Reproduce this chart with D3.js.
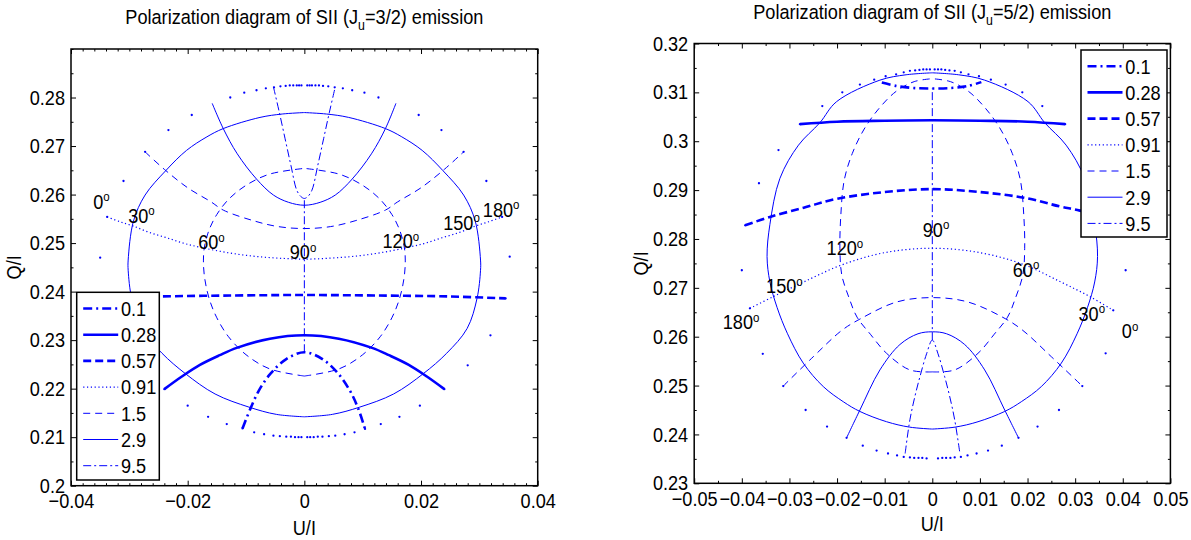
<!DOCTYPE html>
<html><head><meta charset="utf-8">
<script src="https://cdn.jsdelivr.net/npm/d3@7"></script>
<style>body{margin:0;background:#fff;} svg text{font-family:"Liberation Sans",Arial,Helvetica,sans-serif;fill:#000;}</style>
</head><body>
<svg id="chart" width="1191" height="540"></svg>
<script>
// ---------------- DATA ----------------
const fieldLabels = ["0.1","0.28","0.57","0.91","1.5","2.9","9.5"];
const angleLabels = ["0","30","60","90","120","150","180"];

// Left panel (J_u = 3/2): constant-field curves, points [U/I, Q/I]
const L_f01  = [[-0.0106,0.2118],[-0.0092,0.2160],[-0.0078,0.2196],[-0.0058,0.2231],[-0.0031,0.2261],[0,0.2275],[0.0031,0.2261],[0.0058,0.2231],[0.0078,0.2196],[0.0092,0.2160],[0.0104,0.2117]];
const L_f028 = [[-0.0240,0.2199],[-0.0210,0.2225],[-0.0179,0.2249],[-0.0145,0.2269],[-0.0116,0.2284],[-0.0059,0.2303],[0,0.2310],[0.0059,0.2303],[0.0116,0.2284],[0.0145,0.2269],[0.0179,0.2249],[0.0210,0.2225],[0.0240,0.2199]];
const L_f057 = [[-0.0345,0.2387],[-0.0250,0.2390],[-0.0120,0.2392],[0,0.2393],[0.0120,0.2392],[0.0250,0.2390],[0.0345,0.2386]];
const L_f091 = [[-0.0338,0.2554],[-0.0316,0.2544],[-0.0293,0.2535],[-0.0266,0.2522],[-0.0236,0.2511],[-0.0205,0.2499],[-0.0173,0.2490],[-0.0130,0.2480],[-0.0087,0.2473],[-0.0045,0.2469],[0,0.2467],[0.0045,0.2469],[0.0087,0.2473],[0.0130,0.2480],[0.0173,0.2490],[0.0205,0.2499],[0.0236,0.2511],[0.0266,0.2522],[0.0293,0.2535],[0.0316,0.2544],[0.0339,0.2554]];
const L_f15  = [[-0.0273,0.2688],[-0.0240,0.2652],[-0.0200,0.2614],[-0.0160,0.2585],[-0.0139,0.2568],[-0.0087,0.2546],[-0.0045,0.2534],[0,0.2530],[0.0045,0.2534],[0.0087,0.2546],[0.0139,0.2568],[0.0160,0.2585],[0.0200,0.2614],[0.0240,0.2652],[0.0273,0.2688]];
const L_f29  = [[-0.0158,0.2788],[-0.0139,0.2736],[-0.0115,0.2684],[-0.0082,0.2632],[-0.0053,0.2599],[-0.0027,0.2584],[0,0.2578],[0.0027,0.2584],[0.0053,0.2599],[0.0082,0.2632],[0.0115,0.2684],[0.0139,0.2736],[0.0157,0.2788]];
const L_f95  = [[-0.0053,0.2822],[-0.0043,0.2770],[-0.0033,0.2715],[-0.0023,0.2660],[-0.0013,0.2609],[-0.0006,0.2596],[0,0.2592],[0.0006,0.2596],[0.0013,0.2609],[0.0023,0.2660],[0.0033,0.2715],[0.0043,0.2770],[0.0053,0.2822]];

// Left panel: constant-angle curves (bottom -> top)
const L_a0   = [[-0.0005,0.2100],[-0.0010,0.2100],[-0.0016,0.2100],[-0.0023,0.2101],[-0.0031,0.2101],[-0.0042,0.2102],[-0.0053,0.2103],[-0.0069,0.2106],[-0.0086,0.2110],[-0.0106,0.2118],[-0.0133,0.2127],[-0.0165,0.2142],[-0.0200,0.2165],[-0.0240,0.2199],[-0.0281,0.2248],[-0.0319,0.2310],[-0.0345,0.2387],[-0.0350,0.2470],[-0.0338,0.2554],[-0.0310,0.2628],[-0.0273,0.2688],[-0.0233,0.2733],[-0.0193,0.2764],[-0.0127,0.2800],[-0.0103,0.2810],[-0.0082,0.2815],[-0.0066,0.2819],[-0.0052,0.2821],[-0.0041,0.2823],[-0.0032,0.2824],[-0.0025,0.2825],[-0.0019,0.2825],[-0.0013,0.2825],[-0.0009,0.2825],[-0.0005,0.2825]];
const L_a180 = [[0.0005,0.2100],[0.0010,0.2100],[0.0016,0.2100],[0.0023,0.2101],[0.0031,0.2101],[0.0042,0.2102],[0.0053,0.2103],[0.0069,0.2106],[0.0086,0.2110],[0.0104,0.2117],[0.0131,0.2127],[0.0163,0.2142],[0.0198,0.2165],[0.0240,0.2199],[0.0280,0.2248],[0.0319,0.2310],[0.0345,0.2386],[0.0352,0.2472],[0.0339,0.2554],[0.0312,0.2628],[0.0273,0.2688],[0.0235,0.2733],[0.0196,0.2764],[0.0127,0.2800],[0.0103,0.2810],[0.0082,0.2815],[0.0066,0.2819],[0.0052,0.2821],[0.0041,0.2823],[0.0032,0.2824],[0.0025,0.2825],[0.0019,0.2825],[0.0013,0.2825],[0.0009,0.2825],[0.0005,0.2825]];
const L_a30  = [[0,0.2142],[-0.0048,0.2147],[-0.0095,0.2162],[-0.0153,0.2189],[-0.0204,0.2231],[-0.0244,0.2273],[-0.0279,0.2324],[-0.0296,0.2386],[-0.0302,0.2444],[-0.0302,0.2465],[-0.0293,0.2545],[-0.0273,0.2599],[-0.0237,0.2650],[-0.0202,0.2691],[-0.0167,0.2719],[-0.0139,0.2736],[-0.0076,0.2759],[-0.0038,0.2766],[0,0.2769]];
const L_a150 = [[0,0.2142],[0.0048,0.2147],[0.0095,0.2162],[0.0153,0.2189],[0.0204,0.2231],[0.0244,0.2273],[0.0279,0.2324],[0.0296,0.2386],[0.0302,0.2444],[0.0302,0.2465],[0.0293,0.2545],[0.0273,0.2599],[0.0237,0.2650],[0.0202,0.2691],[0.0167,0.2719],[0.0139,0.2736],[0.0076,0.2759],[0.0038,0.2766],[0,0.2769]];
const L_a60  = [[0,0.2226],[-0.0060,0.2241],[-0.0100,0.2270],[-0.0130,0.2307],[-0.0150,0.2346],[-0.0163,0.2385],[-0.0171,0.2429],[-0.0173,0.2465],[-0.0171,0.2494],[-0.0163,0.2528],[-0.0150,0.2559],[-0.0130,0.2590],[-0.0100,0.2619],[-0.0060,0.2642],[0,0.2654]];
const L_a120 = [[0,0.2226],[0.0060,0.2241],[0.0100,0.2270],[0.0130,0.2307],[0.0150,0.2346],[0.0163,0.2385],[0.0171,0.2429],[0.0173,0.2465],[0.0171,0.2494],[0.0163,0.2528],[0.0150,0.2559],[0.0130,0.2590],[0.0100,0.2619],[0.0060,0.2642],[0,0.2654]];
const L_a90  = [[0,0.2275],[0,0.2592]];
const L_angleLabelPos = [[-0.0362,0.2571],[-0.0302,0.2542],[-0.0182,0.2487],[-0.0025,0.2467],[0.0134,0.2489],[0.0238,0.2527],[0.0306,0.2554]];

// Right panel (J_u = 5/2): constant-field curves
const R_f01  = [[-0.0106,0.3120],[-0.0075,0.3113],[-0.0040,0.3109],[0,0.3108],[0.0040,0.3109],[0.0075,0.3113],[0.0103,0.3121]];
const R_f028 = [[-0.0278,0.3035],[-0.0200,0.3040],[-0.0100,0.3042],[0,0.3043],[0.0100,0.3042],[0.0200,0.3040],[0.0279,0.3035]];
const R_f057 = [[-0.0393,0.2828],[-0.0341,0.2845],[-0.0270,0.2864],[-0.0201,0.2882],[-0.0100,0.2896],[0,0.2902],[0.0100,0.2896],[0.0195,0.2884],[0.0270,0.2866],[0.0310,0.2858],[0.0393,0.2830]];
const R_f091 = [[-0.0383,0.2658],[-0.0334,0.2682],[-0.0270,0.2712],[-0.0190,0.2747],[-0.0100,0.2772],[0,0.2781],[0.0100,0.2772],[0.0191,0.2748],[0.0270,0.2712],[0.0331,0.2682],[0.0380,0.2654]];
const R_f15  = [[-0.0313,0.2499],[-0.0250,0.2559],[-0.0190,0.2613],[-0.0152,0.2636],[-0.0075,0.2671],[0,0.2680],[0.0075,0.2671],[0.0153,0.2637],[0.0190,0.2613],[0.0250,0.2559],[0.0315,0.2499]];
const R_f29  = [[-0.0180,0.2393],[-0.0152,0.2450],[-0.0110,0.2532],[-0.0068,0.2584],[-0.0030,0.2606],[0,0.2610],[0.0030,0.2606],[0.0068,0.2584],[0.0110,0.2532],[0.0152,0.2450],[0.0181,0.2393]];
const R_f95  = [[-0.0057,0.2361],[-0.0047,0.2430],[-0.0036,0.2480],[-0.0026,0.2518],[-0.0012,0.2565],[0,0.2593],[0.0012,0.2565],[0.0026,0.2518],[0.0036,0.2480],[0.0047,0.2430],[0.0058,0.2361]];

// Right panel: constant-angle curves (bottom -> top)
const R_a180 = [[-0.0012,0.2351],[-0.0021,0.2352],[-0.0029,0.2352],[-0.0038,0.2352],[-0.0047,0.2353],[-0.0060,0.2354],[-0.0074,0.2357],[-0.0093,0.2361],[-0.0117,0.2367],[-0.0146,0.2377],[-0.0180,0.2393],[-0.0221,0.2416],[-0.0266,0.2450],[-0.0313,0.2499],[-0.0356,0.2565],[-0.0383,0.2658],[-0.0400,0.2736],[-0.0393,0.2828],[-0.0364,0.2914],[-0.0323,0.2982],[-0.0278,0.3035],[-0.0231,0.3072],[-0.0189,0.3100],[-0.0152,0.3116],[-0.0122,0.3126],[-0.0098,0.3133],[-0.0076,0.3137],[-0.0060,0.3141],[-0.0047,0.3144],[-0.0036,0.3145],[-0.0027,0.3146],[-0.0019,0.3147],[-0.0012,0.3147],[-0.0005,0.3147]];
const R_a0   = [[0.0012,0.2351],[0.0021,0.2352],[0.0029,0.2352],[0.0038,0.2352],[0.0047,0.2353],[0.0060,0.2354],[0.0074,0.2357],[0.0093,0.2361],[0.0117,0.2367],[0.0146,0.2377],[0.0181,0.2393],[0.0221,0.2416],[0.0266,0.2450],[0.0315,0.2499],[0.0364,0.2566],[0.0380,0.2654],[0.0406,0.2736],[0.0393,0.2830],[0.0364,0.2914],[0.0323,0.2982],[0.0279,0.3035],[0.0231,0.3072],[0.0189,0.3100],[0.0154,0.3116],[0.0123,0.3126],[0.0098,0.3133],[0.0076,0.3137],[0.0060,0.3141],[0.0047,0.3144],[0.0036,0.3145],[0.0027,0.3146],[0.0019,0.3147],[0.0012,0.3147],[0.0005,0.3147]];
const R_a150 = [[0,0.2411],[-0.0048,0.2415],[-0.0096,0.2426],[-0.0152,0.2447],[-0.0187,0.2467],[-0.0229,0.2498],[-0.0271,0.2546],[-0.0304,0.2606],[-0.0326,0.2660],[-0.0341,0.2712],[-0.0347,0.2764],[-0.0341,0.2830],[-0.0320,0.2924],[-0.0281,0.2992],[-0.0236,0.3038],[-0.0201,0.3081],[-0.0110,0.3125],[-0.0055,0.3136],[0,0.3140]];
const R_a30  = [[0,0.2411],[0.0048,0.2415],[0.0096,0.2426],[0.0152,0.2447],[0.0187,0.2467],[0.0229,0.2498],[0.0271,0.2546],[0.0304,0.2606],[0.0326,0.2660],[0.0341,0.2712],[0.0347,0.2764],[0.0341,0.2830],[0.0320,0.2924],[0.0281,0.2992],[0.0236,0.3038],[0.0201,0.3081],[0.0110,0.3125],[0.0055,0.3136],[0,0.3140]];
const R_a120 = [[0,0.2528],[-0.0047,0.2532],[-0.0096,0.2566],[-0.0130,0.2605],[-0.0158,0.2640],[-0.0175,0.2680],[-0.0190,0.2726],[-0.0194,0.2780],[-0.0192,0.2850],[-0.0185,0.2920],[-0.0168,0.2975],[-0.0143,0.3025],[-0.0112,0.3067],[-0.0076,0.3102],[-0.0038,0.3122],[0,0.3128]];
const R_a60  = [[0,0.2528],[0.0047,0.2532],[0.0096,0.2566],[0.0130,0.2605],[0.0158,0.2640],[0.0175,0.2680],[0.0190,0.2726],[0.0194,0.2780],[0.0192,0.2850],[0.0185,0.2920],[0.0168,0.2975],[0.0143,0.3025],[0.0112,0.3067],[0.0076,0.3102],[0.0038,0.3122],[0,0.3128]];
const R_a90  = [[0,0.2593],[0,0.3108]];
const R_angleLabelPos = [[0.0398,0.2597],[0.0307,0.2633],[0.0169,0.2723],[-0.0020,0.2805],[-0.0222,0.2767],[-0.0349,0.2689],[-0.0440,0.2615]];

// Axis ticks
const L_xTicks = [-0.04,-0.02,0,0.02,0.04];
const L_xTickLabels = ["\u22120.04","\u22120.02","0","0.02","0.04"];
const L_yTicks = [0.20,0.21,0.22,0.23,0.24,0.25,0.26,0.27,0.28];
const L_yTickLabels = ["0.2","0.21","0.22","0.23","0.24","0.25","0.26","0.27","0.28"];
const R_xTicks = [-0.05,-0.04,-0.03,-0.02,-0.01,0,0.01,0.02,0.03,0.04,0.05];
const R_xTickLabels = ["\u22120.05","\u22120.04","\u22120.03","\u22120.02","\u22120.01","0","0.01","0.02","0.03","0.04","0.05"];
const R_yTicks = [0.23,0.24,0.25,0.26,0.27,0.28,0.29,0.30,0.31,0.32];
const R_yTickLabels = ["0.23","0.24","0.25","0.26","0.27","0.28","0.29","0.3","0.31","0.32"];

// ---------------- STYLES / LAYOUT ----------------
const BLUE = "#0000ff";
const FS = 20.5;      // font size (px)
const SX = 0.885;     // horizontal condensing of glyphs
const fieldStyles = [
  {w:2.6, dash:"9,4,2,4"},
  {w:2.6, dash:null},
  {w:2.6, dash:"8,4"},
  {w:1.2, dash:"1.2,2.6"},
  {w:1, dash:"7,5"},
  {w:1, dash:null},
  {w:1, dash:"8,3,2,3"}
];
const angleStyleFor = {"0":"dots","180":"dots","30":1,"150":1,"60":2,"120":2,"90":3};
const angleLineStyles = {1:{w:1,dash:null},2:{w:1,dash:"7,5"},3:{w:1,dash:"8,3,2,3"}};

const panels = [
  {x0:71, x1:537.7, y0:49, y1:485.7, uDom:[-0.04,0.04], qDom:[0.2,0.29],
   xTicks:L_xTicks, xTickLabels:L_xTickLabels, xMinor:0.002,
   yTicks:L_yTicks, yTickLabels:L_yTickLabels, yMinor:0.005,
   titleJ:"3/2", titleY:24, xlabY:535, ylabX:21,
   fields:[L_f01,L_f028,L_f057,L_f091,L_f15,L_f29,L_f95],
   angles:{"0":L_a0,"30":L_a30,"60":L_a60,"90":L_a90,"120":L_a120,"150":L_a150,"180":L_a180},
   labelPos:L_angleLabelPos,
   legend:{x:76.7, y:292.3, w:82.6, h:187.7}},
  {x0:694.2, x1:1170.4, y0:43.5, y1:483.3, uDom:[-0.05,0.05], qDom:[0.23,0.32],
   xTicks:R_xTicks, xTickLabels:R_xTickLabels, xMinor:0.005,
   yTicks:R_yTicks, yTickLabels:R_yTickLabels, yMinor:0.005,
   titleJ:"5/2", titleY:19, xlabY:531, ylabX:648,
   fields:[R_f01,R_f028,R_f057,R_f091,R_f15,R_f29,R_f95],
   angles:{"0":R_a0,"30":R_a30,"60":R_a60,"90":R_a90,"120":R_a120,"150":R_a150,"180":R_a180},
   labelPos:R_angleLabelPos,
   legend:{x:1081, y:50, w:86, h:187}}
];

const svg = d3.select("#chart");

function minorValues(dom, step, majors) {
  const n = Math.round((dom[1]-dom[0])/step);
  const out = [];
  for (let i=0;i<=n;i++){
    const v = dom[0]+i*step;
    if (!majors.some(m=>Math.abs(m-v)<step/10)) out.push(v);
  }
  return out;
}
function styleAxis(sel){
  sel.select(".domain").remove();
  sel.selectAll(".tick line").attr("stroke","#000").attr("stroke-width",1);
  sel.attr("font-size",FS).attr("font-family",'"Liberation Sans",Arial,Helvetica,sans-serif');
  sel.selectAll(".tick text").attr("fill","#000");
}
function condense(sel){
  sel.selectAll(".tick text").each(function(){
    const t = d3.select(this);
    const x = +t.attr("x") || 0;
    t.attr("x", x/SX).attr("transform",`scale(${SX},1)`);
  });
}
function addText(parent, x, y, anchor, extra){
  return parent.append("text")
    .attr("transform",`translate(${x},${y})${extra||""} scale(${SX},1)`)
    .attr("text-anchor",anchor||"start").attr("font-size",FS);
}

panels.forEach(p=>{
  const xs = d3.scaleLinear().domain(p.uDom).range([p.x0,p.x1]);
  const ys = d3.scaleLinear().domain(p.qDom).range([p.y1,p.y0]);
  const g = svg.append("g");
  const MAJ=5, MIN=2.5;
  const xMin = minorValues(p.uDom,p.xMinor,p.xTicks);
  const yMin = minorValues(p.qDom,p.yMinor,p.yTicks);

  g.append("g").attr("transform",`translate(0,${p.y1})`)
    .call(d3.axisBottom(xs).tickValues(p.xTicks).tickSize(-MAJ).tickPadding(8).tickFormat((d,i)=>p.xTickLabels[i])).call(styleAxis).call(condense);
  g.append("g").attr("transform",`translate(0,${p.y1})`)
    .call(d3.axisBottom(xs).tickValues(xMin).tickSize(-MIN).tickFormat("")).call(styleAxis);
  g.append("g").attr("transform",`translate(0,${p.y0})`)
    .call(d3.axisTop(xs).tickValues(p.xTicks).tickSize(-MAJ).tickFormat("")).call(styleAxis);
  g.append("g").attr("transform",`translate(0,${p.y0})`)
    .call(d3.axisTop(xs).tickValues(xMin).tickSize(-MIN).tickFormat("")).call(styleAxis);
  g.append("g").attr("transform",`translate(${p.x0},0)`)
    .call(d3.axisLeft(ys).tickValues(p.yTicks).tickSize(-MAJ).tickPadding(6).tickFormat((d,i)=>p.yTickLabels[i])).call(styleAxis).call(condense);
  g.append("g").attr("transform",`translate(${p.x0},0)`)
    .call(d3.axisLeft(ys).tickValues(yMin).tickSize(-MIN).tickFormat("")).call(styleAxis);
  g.append("g").attr("transform",`translate(${p.x1},0)`)
    .call(d3.axisRight(ys).tickValues(p.yTicks).tickSize(-MAJ).tickFormat("")).call(styleAxis);
  g.append("g").attr("transform",`translate(${p.x1},0)`)
    .call(d3.axisRight(ys).tickValues(yMin).tickSize(-MIN).tickFormat("")).call(styleAxis);

  const line = d3.line().x(d=>xs(d[0])).y(d=>ys(d[1])).curve(d3.curveCatmullRom.alpha(0.5));
  const curves = g.append("g");

  Object.keys(p.angles).forEach(k=>{
    const pts = p.angles[k];
    const st = angleStyleFor[k];
    if (st==="dots") {
      curves.append("g").selectAll("circle").data(pts).join("circle")
        .attr("cx",d=>xs(d[0])).attr("cy",d=>ys(d[1])).attr("r",1.15).attr("fill",BLUE);
    } else {
      const s = angleLineStyles[st];
      curves.append("path").attr("d",line(pts)).attr("fill","none").attr("stroke",BLUE)
        .attr("stroke-width",s.w).attr("stroke-dasharray",s.dash);
    }
  });
  p.fields.forEach((pts,i)=>{
    const s = fieldStyles[i];
    curves.append("path").attr("d",line(pts)).attr("fill","none").attr("stroke",BLUE)
      .attr("stroke-width",s.w).attr("stroke-dasharray",s.dash).attr("stroke-linejoin","round");
  });

  angleLabels.forEach((a,i)=>{
    const pos = p.labelPos[i];
    const t = addText(g, xs(pos[0]), ys(pos[1]), "start");
    t.append("tspan").text(a);
    t.append("tspan").attr("dy",-7.5).attr("font-size",13).text("o");
  });

  g.append("rect").attr("x",p.x0).attr("y",p.y0).attr("width",p.x1-p.x0).attr("height",p.y1-p.y0)
    .attr("fill","none").attr("stroke","#000").attr("stroke-width",1.5);

  const L = p.legend;
  const lg = g.append("g");
  lg.append("rect").attr("x",L.x).attr("y",L.y).attr("width",L.w).attr("height",L.h)
    .attr("fill","#fff").attr("stroke","#000").attr("stroke-width",1.5);
  fieldLabels.forEach((lab,i)=>{
    const cy = L.y + 16.2 + i*26.2;
    const s = fieldStyles[i];
    lg.append("line").attr("x1",L.x+6.5).attr("x2",L.x+41.5).attr("y1",cy).attr("y2",cy)
      .attr("stroke",BLUE).attr("stroke-width",s.w).attr("stroke-dasharray",s.dash);
    addText(lg, L.x+44.3, cy+7.3, "start").text(lab);
  });

  const cx = (p.x0+p.x1)/2;
  const tt = addText(g, cx, p.titleY, "middle");
  tt.append("tspan").text("Polarization diagram of SII (J");
  tt.append("tspan").attr("dy",6).attr("font-size",14).text("u");
  tt.append("tspan").attr("dy",-6).text("="+p.titleJ+") emission");

  addText(g, cx, p.xlabY, "middle").text("U/I");
  addText(g, p.ylabX, (p.y0+p.y1)/2, "middle", " rotate(-90)").text("Q/I");
});
</script>
</body></html>
